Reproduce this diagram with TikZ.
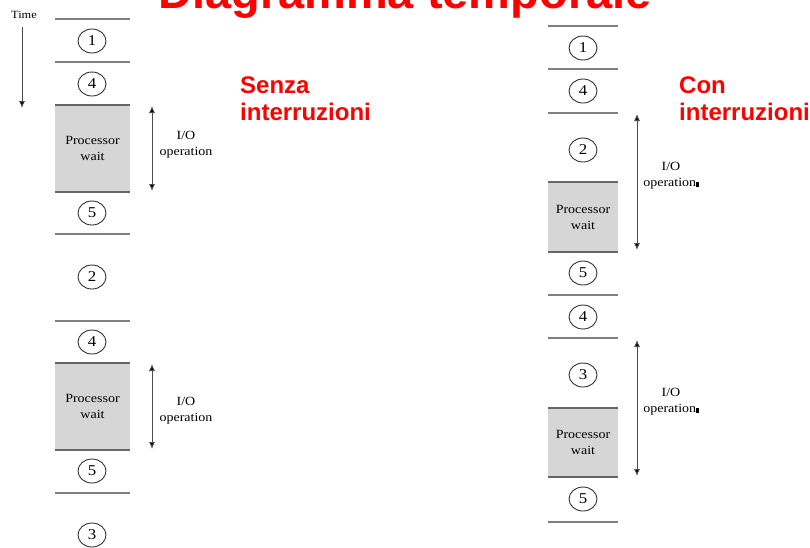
\documentclass[tikz,border=0pt]{standalone}
\usepackage{fontspec}
\usepackage{xcolor}
\usepackage{tikz}
\usetikzlibrary{positioning, arrows.meta, shapes.geometric}
\newfontfamily\diagfont{Liberation Serif}[FakeStretch=1.12]
\newfontfamily\headfont{Liberation Sans}

\begin{document}
\begin{tikzpicture}[
    x=1pt, y=-1pt,
    every node/.style={font=\diagfont\fontsize{12.5}{16}\selectfont, inner sep=0pt},
    num/.style={ellipse, draw=black!80, line width=0.9pt, minimum width=28pt, minimum height=24pt, font=\diagfont\fontsize{15}{16}\selectfont},
    pw/.style={rectangle, fill=black!16, align=center, minimum width=75pt, minimum height=#1},
    pw/.default=87pt,
    lbl/.style={align=center},
    head/.style={font=\headfont\bfseries\fontsize{24}{27.5}\selectfont, text=red, align=left},
    sep/.style={draw=black!50, line width=1.1pt},
    edge/.style={draw=black!60, line width=2pt},
    arr/.style={{Latex[length=7pt, width=6pt, fill=black]}-{Latex[length=7pt, width=6pt, fill=black]}, draw=black!70, line width=0.9pt},
    tarr/.style={-{Latex[length=7pt, width=6pt, fill=black]}, draw=black!70, line width=0.9pt},
]
    \useasboundingbox (0,0) rectangle (810,547);

    \node[head, font=\headfont\bfseries\fontsize{47}{50}\selectfont, anchor=base] (title) at (405,8) {Diagramma temporale};

    % Left column: without interrupts
    \node (time) at (24,15) {\fontsize{11}{12}\selectfont Time};
    \coordinate (t0) at (22,27);
    \coordinate (t1) at (22,108);
    \draw[tarr] (t0) -- (t1);

    \draw[sep] (55,19) -- (130,19) (55,62) -- (130,62) (55,234) -- (130,234)
        (55,321) -- (130,321) (55,493) -- (130,493);
    \node[num] (a1) at (92,41) {1};
    \node[num] (a4) at (92,84) {4};
    \node[pw] (pw1) at (92.5,148.5) {Processor\\wait};
    \node[num] (a5) at (92,213) {5};
    \node[num] (a2) at (92,277) {2};
    \node[num] (a4b) at (92,342) {4};
    \node[pw] (pw2) at (92.5,406.5) {Processor\\wait};
    \node[num] (a5b) at (92,471) {5};
    \node[num] (a3) at (92,535) {3};
    \draw[edge] (pw1.north west) -- (pw1.north east) (pw1.south west) -- (pw1.south east);
    \draw[edge] (pw2.north west) -- (pw2.north east) (pw2.south west) -- (pw2.south east);

    \coordinate (io1t) at (152,106);
    \coordinate (io1b) at (152,191);
    \coordinate (io2t) at (152,364);
    \coordinate (io2b) at (152,449);
    \draw[arr] (io1t) -- (io1b);
    \draw[arr] (io2t) -- (io2b);
    \node[lbl] (io1) at (186,145) {I/O\\operation};
    \node[lbl] (io2) at (186,411) {I/O\\operation};

    \node[head, anchor=base west] (senza) at (240,120.5) {Senza\\interruzioni};

    % Right column: with interrupts
    \draw[sep] (548,26) -- (618,26) (548,69) -- (618,69) (548,113) -- (618,113)
        (548,295) -- (618,295) (548,338) -- (618,338) (548,522) -- (618,522);
    \node[num] (b1) at (583,48) {1};
    \node[num] (b4) at (583,91) {4};
    \node[num] (b2) at (583,150) {2};
    \node[pw=70pt, minimum width=70pt] (pw3) at (583,217) {Processor\\wait};
    \node[num] (b5) at (583,273) {5};
    \node[num] (b4b) at (583,317) {4};
    \node[num] (b3) at (583,375) {3};
    \node[pw=69pt, minimum width=70pt] (pw4) at (583,442.5) {Processor\\wait};
    \node[num] (b5b) at (583,499) {5};
    \draw[edge] (pw3.north west) -- (pw3.north east) (pw3.south west) -- (pw3.south east);
    \draw[edge] (pw4.north west) -- (pw4.north east) (pw4.south west) -- (pw4.south east);

    \coordinate (io3t) at (637,114);
    \coordinate (io3b) at (637,250);
    \coordinate (io4t) at (637,340);
    \coordinate (io4b) at (637,476);
    \draw[arr] (io3t) -- (io3b);
    \draw[arr] (io4t) -- (io4b);
    \node[lbl] (io3) at (671,176) {I/O\\operation\rule{2.5pt}{4.5pt}};
    \node[lbl] (io4) at (671,402) {I/O\\operation\rule{2.5pt}{4.5pt}};

    \node[head, anchor=base west] (con) at (679,120.5) {Con\\interruzioni};
\end{tikzpicture}
\end{document}
